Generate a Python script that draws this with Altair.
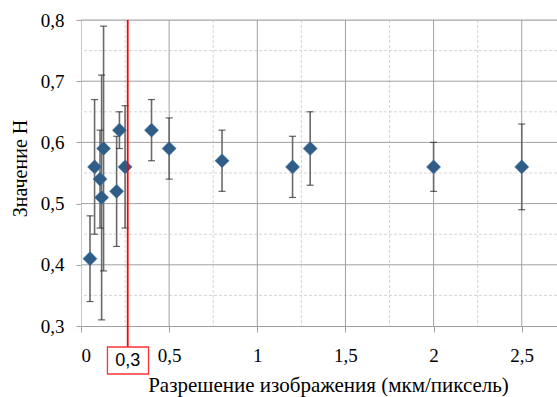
import altair as alt
import pandas as pd

# data
resolution = [0.051, 0.077, 0.108, 0.117, 0.128, 0.202, 0.218, 0.25, 0.40, 0.50, 0.80, 1.20, 1.30, 2.00, 2.50]
h_value =    [0.41, 0.56, 0.54, 0.51, 0.59, 0.52, 0.62, 0.56, 0.62, 0.59, 0.57, 0.56, 0.59, 0.56, 0.56]
h_low =      [0.34, 0.45, 0.46, 0.31, 0.39, 0.43, 0.59, 0.46, 0.57, 0.54, 0.52, 0.51, 0.53, 0.52, 0.49]
h_high =     [0.48, 0.67, 0.62, 0.71, 0.79, 0.61, 0.65, 0.66, 0.67, 0.64, 0.62, 0.61, 0.65, 0.60, 0.63]

x_major = [0.5, 1.0, 1.5, 2.0, 2.5]
x_minor = [0.25, 0.75, 1.25, 1.75, 2.25]
y_major = [0.4, 0.5, 0.6, 0.7, 0.8]
y_minor = [0.35, 0.45, 0.55, 0.65, 0.75]

marker_x = 0.265
marker_label = "0,3"
box_left, box_right = 0.150, 0.383

df = pd.DataFrame({"res": resolution, "h": h_value, "lo": h_low, "hi": h_high})

SERIF = "Liberation Serif"
xscale = alt.Scale(domain=[0, 2.7], nice=False, zero=False)
yscale = alt.Scale(domain=[0.3, 0.8], nice=False, zero=False)

base = alt.Chart(df)

xgrid_minor = alt.Chart(pd.DataFrame({"v": x_minor})).mark_rule(
    color="#d4d4d4", strokeDash=[3, 2], strokeWidth=1
).encode(x=alt.X("v:Q", scale=xscale))
ygrid_minor = alt.Chart(pd.DataFrame({"v": y_minor})).mark_rule(
    color="#d4d4d4", strokeDash=[3, 2], strokeWidth=1
).encode(y=alt.Y("v:Q", scale=yscale))
xgrid_major = alt.Chart(pd.DataFrame({"v": x_major})).mark_rule(
    color="#a0a0a0", strokeWidth=1
).encode(x=alt.X("v:Q", scale=xscale))
ygrid_major = alt.Chart(pd.DataFrame({"v": y_major})).mark_rule(
    color="#a0a0a0", strokeWidth=1
).encode(y=alt.Y("v:Q", scale=yscale))

errbars = base.mark_rule(color="#6a6a6a", strokeWidth=1.6).encode(
    x=alt.X("res:Q", scale=xscale,
            axis=alt.Axis(values=[0, 0.5, 1, 1.5, 2, 2.5],
                          labelExpr="replace(format(datum.value, '~g'), '.', ',')",
                          title="Разрешение изображения (мкм/пиксель)",
                          grid=False, domainColor="#a0a0a0", tickColor="#a0a0a0",
                          tickSize=6, labelPadding=14, titlePadding=9, titleX=247,
                          labelFont=SERIF, labelFontSize=19, labelColor="#000",
                          titleFont=SERIF, titleFontSize=21, titleFontWeight="normal",
                          titleColor="#000")),
    y=alt.Y("lo:Q", scale=yscale,
            axis=alt.Axis(values=[0.3, 0.4, 0.5, 0.6, 0.7, 0.8],
                          labelExpr="replace(format(datum.value, '.1f'), '.', ',')",
                          title="Значение H",
                          grid=False, domainColor="#c8c8c8", tickColor="#a0a0a0",
                          tickSize=5, labelPadding=12, titlePadding=10, titleY=148,
                          labelFont=SERIF, labelFontSize=19, labelColor="#000",
                          titleFont=SERIF, titleFontSize=20, titleFontWeight="normal",
                          titleColor="#000")),
    y2="hi:Q",
)
cap_hi = base.mark_tick(orient="horizontal", color="#222", thickness=1.2, size=7).encode(
    x=alt.X("res:Q", scale=xscale), y=alt.Y("hi:Q", scale=yscale))
cap_lo = base.mark_tick(orient="horizontal", color="#222", thickness=1.2, size=7).encode(
    x=alt.X("res:Q", scale=xscale), y=alt.Y("lo:Q", scale=yscale))

points = base.mark_point(shape="diamond", filled=True, size=200, color="#2f5d88", opacity=1,
                         stroke="#4d7aa6", strokeWidth=0.5).encode(
    x=alt.X("res:Q", scale=xscale), y=alt.Y("h:Q", scale=yscale))

ann = pd.DataFrame({"x": [marker_x], "l": [box_left], "r": [box_right], "t": [marker_label]})
red_line = alt.Chart(ann).mark_rule(color="#ff0000", strokeWidth=1.8).encode(
    x=alt.X("x:Q", scale=xscale), y=alt.value(0), y2=alt.value(327))
red_box = alt.Chart(ann).mark_rect(fill="white", stroke="#ff3333", strokeWidth=1.3).encode(
    x=alt.X("l:Q", scale=xscale), x2="r:Q", y=alt.value(327), y2=alt.value(354))
red_text = alt.Chart(ann).mark_text(font="Liberation Sans", fontSize=18, color="#000",
                                    baseline="middle", align="center").encode(
    x=alt.X("x:Q", scale=xscale), y=alt.value(341), text="t:N")

chart = alt.layer(
    xgrid_minor, ygrid_minor, xgrid_major, ygrid_major,
    errbars, cap_hi, cap_lo, points, red_line, red_box, red_text
).properties(
    width=476, height=306,
    autosize=alt.AutoSizeParams(type="none"),
    padding={"left": 81, "top": 20, "right": 0, "bottom": 71},
).configure_view(stroke=None).configure(background="white")

chart.save("out.html", embed_options={"renderer": "svg", "actions": False})
